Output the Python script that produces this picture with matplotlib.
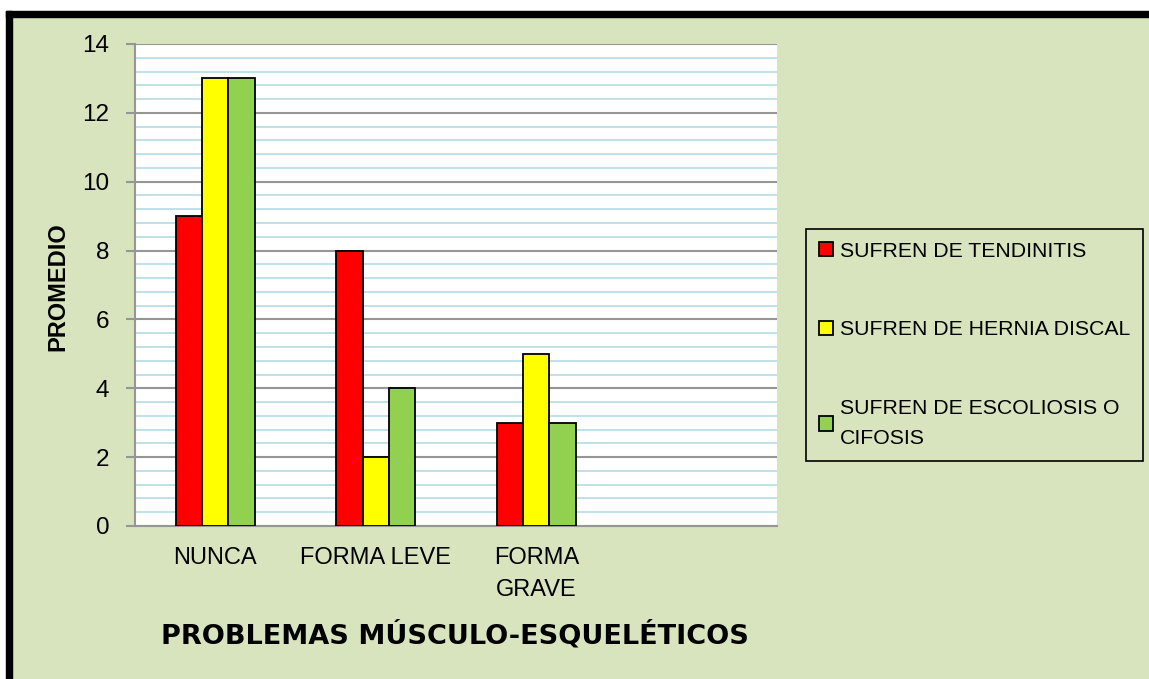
import numpy as np
import matplotlib
matplotlib.use("Agg")
import matplotlib.pyplot as plt
from matplotlib.patches import Rectangle

BG = "#D7E4BD"
NARROW = ["Liberation Sans Narrow", "Liberation Sans", "DejaVu Sans"]

categories = ["NUNCA", "FORMA LEVE", "FORMA\nGRAVE", ""]
series = ["SUFREN DE TENDINITIS", "SUFREN DE HERNIA DISCAL",
          "SUFREN DE ESCOLIOSIS O\nCIFOSIS"]
tendinitis = [9, 8, 3]
hernia = [13, 2, 5]
escoliosis = [13, 4, 3]
colors = ["#FF0000", "#FFFF00", "#92D050"]

W, H = 1149, 679
fig = plt.figure(figsize=(W / 100, H / 100), dpi=100)
fig.patch.set_facecolor(BG)

# white strip outside the black frame, then the frame (left and top only)
fig.patches.append(Rectangle((0, 0), 6 / W, 1, transform=fig.transFigure, color="white", zorder=0))
fig.patches.append(Rectangle((0, (H - 11) / H), 1, 11 / H, transform=fig.transFigure, color="white", zorder=0))
fig.patches.append(Rectangle((6 / W, 0), 6 / W, (H - 11) / H, transform=fig.transFigure, color="black", zorder=1))
fig.patches.append(Rectangle((6 / W, (H - 17) / H), 1 - 6 / W, 6 / H, transform=fig.transFigure, color="black", zorder=1))

ax = fig.add_axes([135 / W, (H - 526) / H, (777 - 135) / W, (526 - 44) / H])
ax.set_facecolor("white")

x = np.arange(len(categories))
w = 0.165
for i, (vals, c, lab) in enumerate(zip([tendinitis, hernia, escoliosis], colors, series)):
    ax.bar(x[:3] + (i - 1) * w, vals, width=w, color=c, edgecolor="black",
           linewidth=1.3, label=lab, zorder=3)

ax.set_xlim(-0.5, 3.5)
ax.set_ylim(0, 14)
ax.set_yticks(np.arange(0, 15, 2))
ax.set_yticks(np.arange(0, 14.01, 0.4), minor=True)
ax.grid(which="major", axis="y", color="#969696", lw=1.5, zorder=1)
ax.grid(which="minor", axis="y", color="#BFE0EA", lw=1.4, zorder=0)
ax.set_axisbelow(True)

for s in ["top", "right"]:
    ax.spines[s].set_visible(False)
for s in ["left", "bottom"]:
    ax.spines[s].set_color("#969696")
    ax.spines[s].set_linewidth(1.5)

ax.tick_params(axis="y", which="major", length=6.5, width=1.5, color="#969696",
               pad=12, labelsize=17.5)
ax.tick_params(axis="y", which="minor", length=0)
ax.tick_params(axis="x", length=0, pad=15, labelsize=17)
ax.set_xticks(x)
ax.set_xticklabels(categories, linespacing=1.6)
for t in ax.get_xticklabels() + ax.get_yticklabels():
    t.set_family(NARROW)

fig.text(58 / W, (H - 287) / H, "PROMEDIO", rotation=90, ha="center", va="center",
         fontsize=17, fontweight="bold", family=NARROW)
fig.text(455 / W, (H - 635) / H, "PROBLEMAS MÚSCULO-ESQUELÉTICOS", ha="center",
         va="center", fontsize=19.5, fontweight="bold", family=["DejaVu Sans"])

leg = fig.legend(loc="upper left", bbox_to_anchor=(806 / W, (H - 229) / H),
                 frameon=True, fancybox=False, shadow=False, facecolor=BG,
                 edgecolor="black", framealpha=1, prop={"family": NARROW, "size": 15.3},
                 handlelength=0.65, handleheight=0.65, handletextpad=0.35,
                 labelspacing=2.8, borderpad=0.6, borderaxespad=0)
leg.get_frame().set_linewidth(1.2)
leg.get_texts()[2].set_linespacing(1.75)

fig.savefig("out.png", dpi=100, facecolor=BG)
